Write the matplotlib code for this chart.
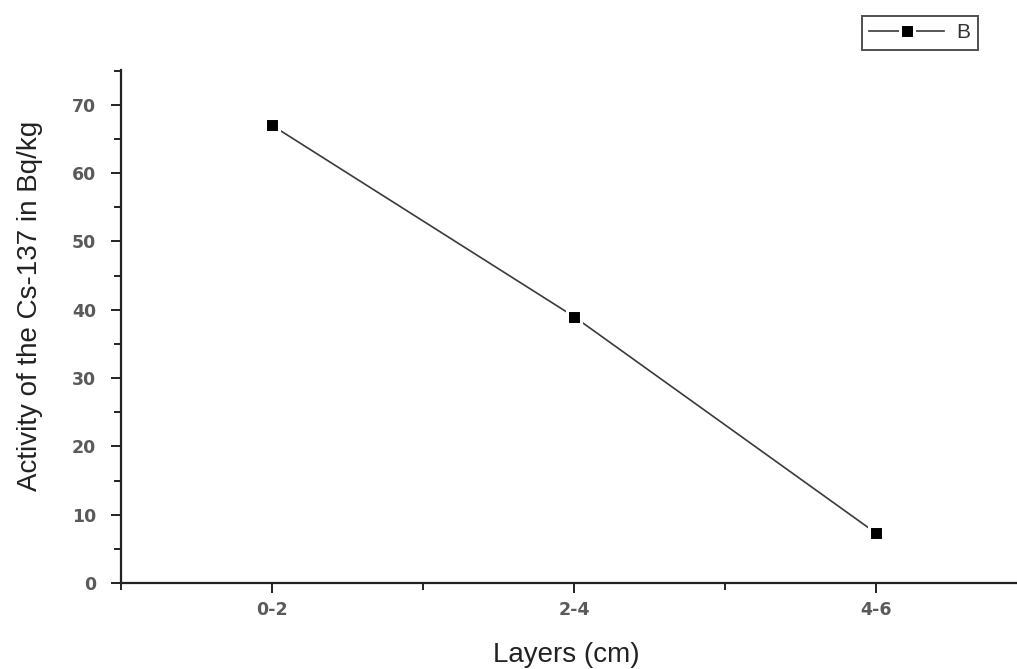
import matplotlib
matplotlib.use("Agg")
import matplotlib.pyplot as plt
from matplotlib.ticker import MultipleLocator

# data
layers = ["0-2", "2-4", "4-6"]
positions = [1, 2, 3]
activity = [67, 39, 7.3]

plt.rcParams["font.family"] = ["Liberation Sans", "DejaVu Sans"]

fig = plt.figure(figsize=(10.17, 6.69), dpi=100)
ax = fig.add_axes([121 / 1017, 86 / 669, 906 / 1017, 513 / 669])

# white marker edge leaves a small gap between line and square (Origin look)
ax.plot(positions, activity, color="#3a3a3a", lw=1.2, marker="s",
        markersize=9.4, markerfacecolor="black", markeredgecolor="white",
        markeredgewidth=2.2, label="B")

ax.set_xlim(0.5, 3.5)
ax.set_ylim(0, 75.1)
ax.set_xticks(positions)
ax.set_xticklabels(layers)
ax.xaxis.set_minor_locator(MultipleLocator(0.5))
ax.yaxis.set_major_locator(MultipleLocator(10))
ax.yaxis.set_minor_locator(MultipleLocator(5))

for s in ["top", "right"]:
    ax.spines[s].set_visible(False)
for s in ["left", "bottom"]:
    ax.spines[s].set_linewidth(1.6)
    ax.spines[s].set_color("#222222")

ax.tick_params(axis="both", which="major", direction="out", length=7,
               width=1.4, color="#222222", labelcolor="#5a5a5a")
ax.tick_params(axis="x", which="major", pad=6)
ax.tick_params(axis="y", which="major", pad=11)
ax.tick_params(axis="both", which="minor", direction="out", length=5,
               width=1.4, color="#222222")
for lab in ax.get_xticklabels() + ax.get_yticklabels():
    lab.set_family("DejaVu Sans")
    lab.set_fontweight("bold")
    lab.set_fontsize(12.5)

ax.set_xlabel("Layers (cm)", fontsize=20, color="#222222", labelpad=20)
ax.set_ylabel("Activity of the Cs-137 in Bq/kg", fontsize=20,
              color="#222222")
ax.yaxis.set_label_coords(-0.086, 0.54)
ax.xaxis.set_label_coords(0.492, -0.115)

leg = fig.legend(loc="upper right", bbox_to_anchor=(978 / 1017, 1 - 16 / 669),
                 frameon=True, fancybox=False, fontsize=15, handlelength=3.6,
                 borderpad=0.35, handletextpad=0.6, borderaxespad=0)
leg.get_frame().set_edgecolor("#222222")
leg.get_frame().set_linewidth(1.4)
for t in leg.get_texts():
    t.set_color("#333333")

fig.savefig("out.png", dpi=100)
